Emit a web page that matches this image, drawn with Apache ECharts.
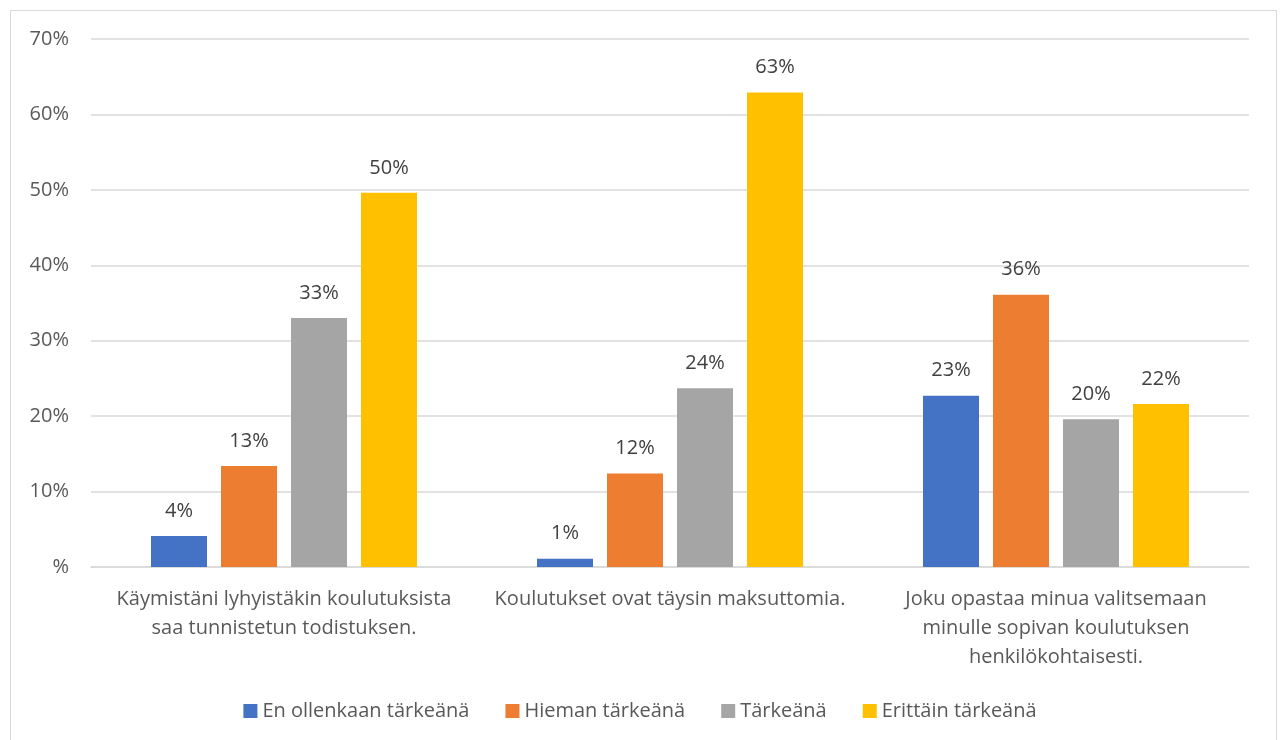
<!DOCTYPE html>
<html>
<head>
<meta charset="utf-8">
<script src="https://cdn.jsdelivr.net/npm/echarts@6/dist/echarts.min.js"></script>
<style>
  html, body { margin: 0; padding: 0; background: #fff; }
  .frame {
    position: absolute; left: 10px; top: 10px; width: 1267px; height: 740px;
    border: 1px solid #d9d9d9; box-sizing: border-box;
  }
  #chart { position: absolute; left: 0; top: 0; width: 1280px; height: 740px; }
</style>
</head>
<body>
<div class="frame"></div>
<div id="chart"></div>
<script>
const categories = [
  'Käymistäni lyhyistäkin koulutuksista\nsaa tunnistetun todistuksen.',
  'Koulutukset ovat täysin maksuttomia.',
  'Joku opastaa minua valitsemaan\nminulle sopivan koulutuksen\nhenkilökohtaisesti.'
]
const seriesNames = ['En ollenkaan tärkeänä', 'Hieman tärkeänä', 'Tärkeänä', 'Erittäin tärkeänä']
const colors = ['#4472c4', '#ed7d31', '#a5a5a5', '#ffc000']
const enOllenkaan = [4.1, 1.1, 22.7]
const hieman = [13.4, 12.4, 36.1]
const tarkea = [33.0, 23.7, 19.6]
const erittain = [49.6, 62.9, 21.6]
const values = [enOllenkaan, hieman, tarkea, erittain]

const font = '"Open Sans", sans-serif'
const chart = echarts.init(document.getElementById('chart'))
chart.setOption({
  animation: false,
  textStyle: {fontFamily: font},
  grid: {left: 91, right: 31, top: 39, bottom: 173},
  legend: {
    bottom: 14,
    left: 'center',
    itemWidth: 14,
    itemHeight: 14,
    itemGap: 36,
    icon: 'rect',
    textStyle: {fontFamily: font, fontSize: 20, color: '#595959'},
    data: seriesNames
  },
  xAxis: {
    type: 'category',
    data: categories,
    axisLine: {lineStyle: {color: '#d9d9d9', width: 1.5}},
    axisTick: {show: false},
    axisLabel: {
      interval: 0,
      margin: 18,
      fontSize: 20,
      lineHeight: 29,
      color: '#595959',
      fontFamily: font
    }
  },
  yAxis: {
    type: 'value',
    min: 0,
    max: 70,
    interval: 10,
    axisLine: {show: false},
    axisTick: {show: false},
    splitLine: {lineStyle: {color: '#d9d9d9', width: 1.5}},
    axisLabel: {
      fontSize: 20,
      color: '#595959',
      margin: 22,
      fontFamily: font,
      formatter: v => v === 0 ? '%' : v + '%'
    }
  },
  series: values.map((arr, i) => ({
    name: seriesNames[i],
    type: 'bar',
    data: arr,
    barWidth: 56,
    barGap: '25%',
    barCategoryGap: '31%',
    itemStyle: {color: colors[i]},
    label: {
      show: true,
      position: 'top',
      distance: 15,
      fontSize: 20,
      color: '#404040',
      fontFamily: font,
      formatter: p => Math.round(p.value) + '%'
    }
  }))
})
</script>
</body>
</html>
